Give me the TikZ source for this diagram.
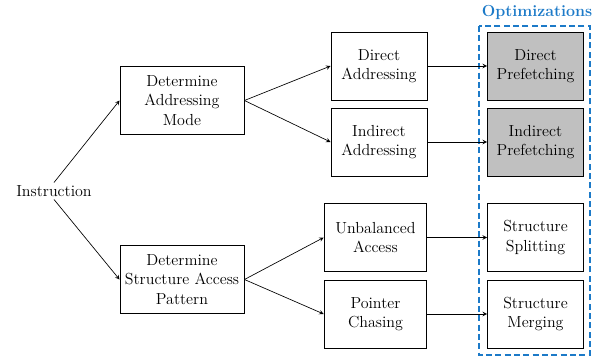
\documentclass[tikz,border=0pt]{standalone}
\usetikzlibrary{arrows}
\definecolor{optblue}{RGB}{28,122,200}
\definecolor{optgray}{RGB}{192,192,192}
\begin{document}
\begin{tikzpicture}[x=0.75pt,y=-0.75pt,>=stealth,
  box/.style={draw,line width=0.7pt,align=center,minimum height=51pt,inner sep=2pt,
    font=\fontsize{12}{14.5}\selectfont},
  opt/.style={box,fill=optgray},
  link/.style={->,line width=0.5pt}]
\useasboundingbox (0,0) rectangle (597,358);

% input
\node[font=\fontsize{12}{14.5}\selectfont,inner sep=2pt] (instr) at (54,191) {Instruction};

% first stage
\node[box,minimum width=93pt] (dam) at (182,100.5) {Determine\\Addressing\\Mode};
\node[box,minimum width=93pt] (dsap) at (182,279.5) {Determine\\Structure Access\\Pattern};

% second stage
\node[box,minimum width=72pt] (da) at (379,66) {Direct\\Addressing};
\node[box,minimum width=72pt] (ia) at (379,142) {Indirect\\Addressing};
\node[box,minimum width=77pt] (ua) at (375.5,237.5) {Unbalanced\\Access};
\node[box,minimum width=77pt] (pc) at (375.5,314) {Pointer\\Chasing};

% optimizations
\node[opt,minimum width=72pt] (dp) at (535.5,66) {Direct\\Prefetching};
\node[opt,minimum width=72pt] (ip) at (535.5,142) {Indirect\\Prefetching};
\node[box,minimum width=72pt] (ss) at (535.5,237.5) {Structure\\Splitting};
\node[box,minimum width=72pt] (sm) at (535.5,314) {Structure\\Merging};

\draw[optblue,line width=1.1pt,dash pattern=on 4.5pt off 2.5pt] (479,26) rectangle (590,355);
\node[optblue,font=\fontsize{12}{14}\selectfont\bfseries] (optlab) at (537,12) {Optimizations};

\draw[link] (instr.north) -- (dam.west);
\draw[link] (instr.south) -- (dsap.west);

\draw[link] (dam.east) -- (da.west);
\draw[link] (dam.east) -- (ia.west);
\draw[link] (dsap.east) -- (ua.west);
\draw[link] (dsap.east) -- (pc.west);

\draw[link] (da) -- (dp);
\draw[link] (ia) -- (ip);
\draw[link] (ua) -- (ss);
\draw[link] (pc) -- (sm);
\end{tikzpicture}
\end{document}
